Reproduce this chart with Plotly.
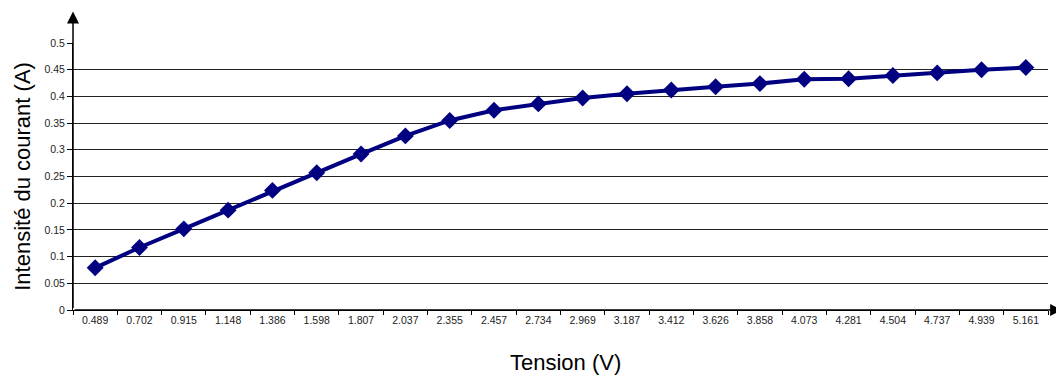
import plotly.graph_objects as go

tension = ["0.489", "0.702", "0.915", "1.148", "1.386", "1.598", "1.807", "2.037",
           "2.355", "2.457", "2.734", "2.969", "3.187", "3.412", "3.626", "3.858",
           "4.073", "4.281", "4.504", "4.737", "4.939", "5.161"]
intensite = [0.079, 0.117, 0.152, 0.187, 0.224, 0.257, 0.292, 0.326,
             0.355, 0.374, 0.386, 0.397, 0.405, 0.412, 0.418, 0.424,
             0.432, 0.433, 0.439, 0.444, 0.450, 0.454]
y_ticks = [0, 0.05, 0.1, 0.15, 0.2, 0.25, 0.3, 0.35, 0.4, 0.45, 0.5]
y_ticklabels = ["0", "0.05", "0.1", "0.15", "0.2", "0.25", "0.3", "0.35", "0.4", "0.45", "0.5"]
x_title = "Tension (V)"
y_title = "Intensité du courant (A)"

font_family = "Liberation Sans, Arial, sans-serif"

fig = go.Figure()
fig.add_trace(go.Scatter(
    x=tension, y=intensite, mode="lines+markers",
    line=dict(color="#000080", width=4),
    marker=dict(symbol="diamond", size=13, color="#000080"),
    showlegend=False,
))

# the page body has an 8px default margin; size the figure to compensate
fig.update_layout(
    width=1056, height=368,
    margin=dict(l=65, r=16, t=35, b=66),
    paper_bgcolor="white", plot_bgcolor="white",
    font=dict(family=font_family, color="black"),
    xaxis=dict(
        type="category", automargin=False,
        showgrid=False,
        showline=True, linecolor="black", linewidth=1,
        ticks="outside", tickson="boundaries", ticklen=4, tickcolor="black",
        tickfont=dict(size=10.5, color="#222"),
        range=[-0.5, 21.5],
        zeroline=False,
    ),
    yaxis=dict(
        range=[0, 0.5], automargin=False,
        tickvals=y_ticks, ticktext=y_ticklabels,
        showgrid=True, gridcolor="#222", gridwidth=1,
        showline=True, linecolor="black", linewidth=1,
        ticks="outside", ticklen=5, tickcolor="black",
        tickfont=dict(size=10.5, color="#222"),
        zeroline=False,
    ),
)

# axis titles
fig.add_annotation(x=-0.052, y=0.5, xref="paper", yref="paper", text=y_title,
                   showarrow=False, textangle=-90, xanchor="center", yanchor="middle",
                   font=dict(size=22, color="black"))
fig.add_annotation(x=0.505, y=-0.195, xref="paper", yref="paper", text=x_title,
                   showarrow=False, xanchor="center", yanchor="middle",
                   font=dict(size=22, color="black"))

# axis arrows
fig.add_annotation(x=0, y=1.118, xref="paper", yref="paper", text="",
                   showarrow=True, ax=0, ay=298, axref="pixel", ayref="pixel",
                   arrowhead=2, arrowsize=1.6, arrowwidth=1.5, arrowcolor="black")
fig.add_annotation(x=1.0145, y=0, xref="paper", yref="paper", text="",
                   showarrow=True, ax=-989, ay=0, axref="pixel", ayref="pixel",
                   arrowhead=2, arrowsize=1.6, arrowwidth=1.5, arrowcolor="black")

fig.write_html("out.html")
